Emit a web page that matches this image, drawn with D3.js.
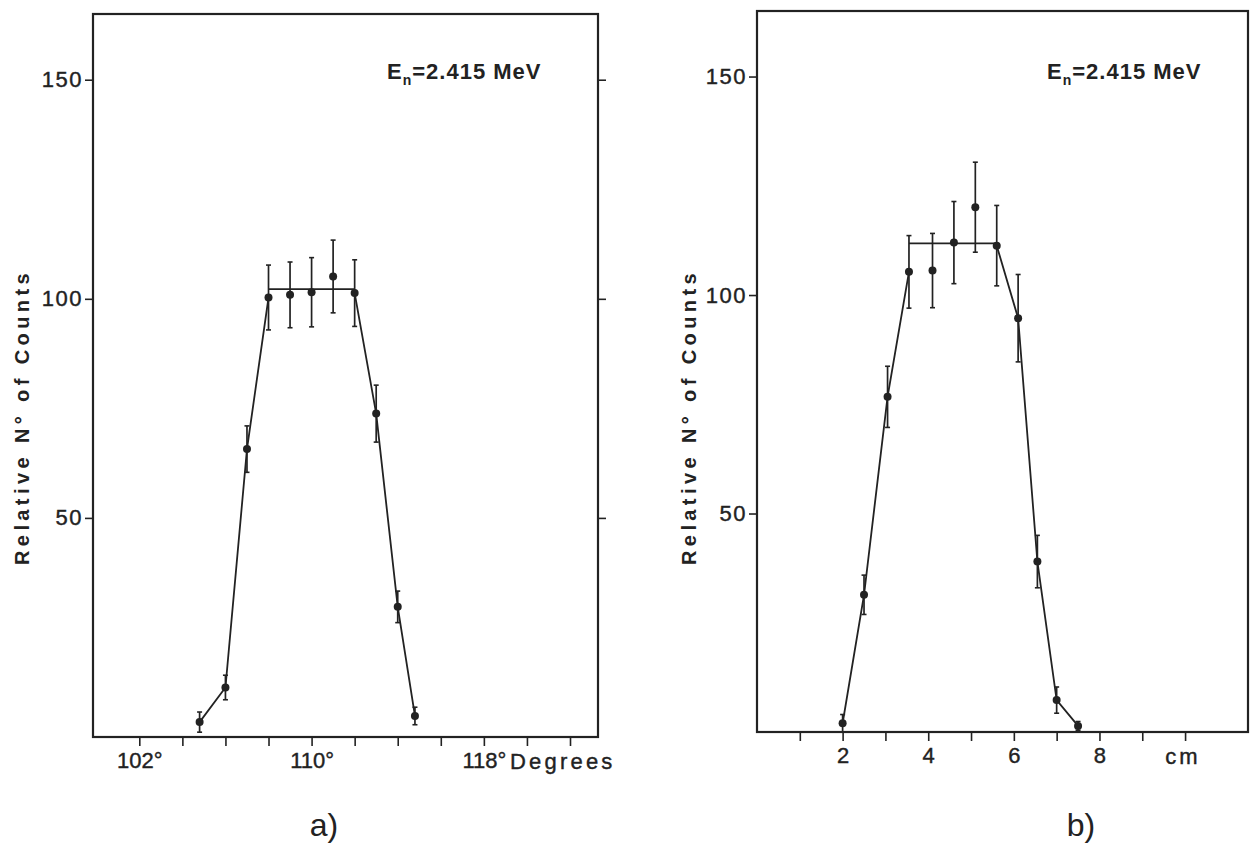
<!DOCTYPE html>
<html>
<head>
<meta charset="utf-8">
<script src="https://cdn.jsdelivr.net/npm/d3@7"></script>
<style>
  body { margin: 0; background: #fff; }
  text { font-family: "Liberation Sans", Arial, sans-serif; fill: #222; }
</style>
</head>
<body>
<div id="chart"></div>
<script>
// data
// a) angular scan
let degAngles = [104.8, 106, 107, 108, 109, 110, 111, 112, 113, 114, 114.8];
let degCounts = [3.4, 11.3, 65.7, 100.3, 100.9, 101.5, 105.1, 101.3, 73.8, 29.7, 4.8];
let degErrors = [2.3, 2.8, 5.3, 7.4, 7.5, 7.9, 8.3, 7.6, 6.5, 3.6, 2.0];
let degPlateau = 102.2;
let degTicks = [102, 104, 106, 108, 110, 112, 114, 116, 118, 120, 122];
let degLabels = [102, 110, 118];

// b) linear scan
let cmPositions = [2.0, 2.5, 3.05, 3.55, 4.1, 4.6, 5.1, 5.6, 6.1, 6.55, 7.0, 7.5];
let cmCounts = [2.0, 31.4, 76.7, 105.3, 105.6, 112.0, 120.1, 111.3, 94.7, 39.0, 7.3, 1.4];
let cmErrors = [2.0, 4.5, 7.0, 8.3, 8.5, 9.4, 10.3, 9.2, 10.0, 6.0, 3.0, 1.0];
let cmPlateau = 111.8;
let cmTicks = [1, 2, 3, 4, 5, 6, 7, 8, 9, 10];
let cmLabels = [2, 4, 6, 8];

let countTicks = [50, 100, 150];

let ink = "#222";

let svg = d3.select("#chart")
    .append("svg")
    .attr("width", 1250)
    .attr("height", 846);

//Draw one panel of the figure
function drawPanel(opt) {
    let x = d3.scaleLinear().domain(opt.xDomain).range(opt.xRange);
    let y = d3.scaleLinear().domain([0, 165]).range(opt.yRange);
    let g = svg.append("g");

    //frame
    g.append("rect")
        .attr("x", opt.xRange[0])
        .attr("y", opt.yRange[1])
        .attr("width", opt.xRange[1] - opt.xRange[0])
        .attr("height", opt.yRange[0] - opt.yRange[1])
        .attr("fill", "none")
        .attr("stroke", ink)
        .attr("stroke-width", 2.2);

    //left axis
    let yAxis = g.append("g")
        .attr("transform", "translate(" + opt.xRange[0] + ",0)")
        .call(d3.axisLeft(y).tickValues(countTicks).tickSize(8).tickPadding(2));
    yAxis.select(".domain").remove();
    yAxis.selectAll("line").attr("stroke", ink).attr("stroke-width", 1.6);
    yAxis.selectAll("text")
        .style("font-size", "22px")
        .style("letter-spacing", "1.5px")
        .attr("fill", ink)
        .attr("stroke", ink).attr("stroke-width", 0.4);

    //outer ticks on the right edge
    if (opt.rightTicks) {
        let rAxis = g.append("g")
            .attr("transform", "translate(" + opt.xRange[1] + ",0)")
            .call(d3.axisRight(y).tickValues(countTicks).tickSize(8).tickFormat(""));
        rAxis.select(".domain").remove();
        rAxis.selectAll("line").attr("stroke", ink).attr("stroke-width", 1.6);
    }

    //bottom axis
    let xAxis = g.append("g")
        .attr("transform", "translate(0," + opt.yRange[0] + ")")
        .call(d3.axisBottom(x).tickValues(opt.ticks).tickSize(9).tickPadding(6)
            .tickFormat(function(d) { return opt.labels.indexOf(d) >= 0 ? d + opt.suffix : ""; }));
    xAxis.select(".domain").remove();
    xAxis.selectAll("line").attr("stroke", ink).attr("stroke-width", 1.6);
    xAxis.selectAll("text")
        .style("font-size", "22px")
        .attr("fill", ink)
        .attr("stroke", ink).attr("stroke-width", 0.4);

    //unit label after the last labelled tick
    g.append("text")
        .attr("x", opt.unitX)
        .attr("y", opt.yRange[0] + 32)
        .attr("text-anchor", opt.unitAnchor)
        .style("font-size", "22px")
        .style("letter-spacing", opt.unitSpacing)
        .attr("stroke", ink).attr("stroke-width", 0.4)
        .text(opt.unit);

    //y axis title
    g.append("text")
        .attr("transform", "translate(" + opt.titleX + ",417) rotate(-90)")
        .attr("text-anchor", "middle")
        .style("font-size", "20px")
        .style("font-weight", "bold")
        .style("letter-spacing", "4.4px")
        .text("Relative N° of Counts");

    //energy note
    let note = g.append("text")
        .attr("x", opt.noteX)
        .attr("y", 79)
        .style("font-size", "22px")
        .style("font-weight", "bold")
        .style("letter-spacing", "1px");
    note.append("tspan").text("E");
    note.append("tspan").attr("dy", 6).style("font-size", "14px").text("n");
    note.append("tspan").attr("dy", -6).text("=2.415 MeV");

    //panel tag
    g.append("text")
        .attr("x", opt.tagX)
        .attr("y", 836)
        .attr("text-anchor", "middle")
        .style("font-size", "32px")
        .text(opt.tag);

    let line = d3.line().x(function(d) { return x(d[0]); }).y(function(d) { return y(d[1]); });
    let pts = opt.xs.map(function(v, i) { return [v, opt.ys[i]]; });

    //rising side, plateau and falling side
    g.append("path")
        .attr("d", line(pts.slice(0, 4)))
        .attr("fill", "none").attr("stroke", ink).attr("stroke-width", 1.8);
    g.append("path")
        .attr("d", line([[opt.xs[3], opt.plateau], [opt.xs[7], opt.plateau]]))
        .attr("fill", "none").attr("stroke", ink).attr("stroke-width", 1.8);
    g.append("path")
        .attr("d", line(pts.slice(7)))
        .attr("fill", "none").attr("stroke", ink).attr("stroke-width", 1.8);

    //error bars
    let bars = g.selectAll("g.err")
        .data(pts)
        .enter()
        .append("g")
        .attr("class", "err");
    bars.append("line")
        .attr("x1", function(d) { return x(d[0]); })
        .attr("x2", function(d) { return x(d[0]); })
        .attr("y1", function(d, i) { return y(d[1] - opt.errs[i]); })
        .attr("y2", function(d, i) { return y(d[1] + opt.errs[i]); })
        .attr("stroke", ink).attr("stroke-width", 1.7);
    [-1, 1].forEach(function(s) {
        bars.append("line")
            .attr("x1", function(d) { return x(d[0]) - 2.5; })
            .attr("x2", function(d) { return x(d[0]) + 2.5; })
            .attr("y1", function(d, i) { return y(d[1] + s * opt.errs[i]); })
            .attr("y2", function(d, i) { return y(d[1] + s * opt.errs[i]); })
            .attr("stroke", ink).attr("stroke-width", 1.6);
    });

    //dots
    g.selectAll("circle.pt")
        .data(pts)
        .enter()
        .append("circle")
        .attr("class", "pt")
        .attr("cx", function(d) { return x(d[0]); })
        .attr("cy", function(d) { return y(d[1]); })
        .attr("r", 4)
        .attr("fill", ink);
}

drawPanel({
    xDomain: [99.85, 123.3], xRange: [93, 598], yRange: [737, 14],
    xs: degAngles, ys: degCounts, errs: degErrors, plateau: degPlateau,
    ticks: degTicks, labels: degLabels, suffix: "°",
    unit: "Degrees", unitX: 510, unitAnchor: "start", unitSpacing: "3.2px",
    rightTicks: true, titleX: 29, noteX: 387, tag: "a)", tagX: 324
});

drawPanel({
    xDomain: [0, 11.47], xRange: [757, 1248], yRange: [732, 11],
    xs: cmPositions, ys: cmCounts, errs: cmErrors, plateau: cmPlateau,
    ticks: cmTicks, labels: cmLabels, suffix: "",
    unit: "cm", unitX: 1183, unitAnchor: "middle", unitSpacing: "3px",
    rightTicks: false, titleX: 696, noteX: 1047, tag: "b)", tagX: 1081
});
</script>
</body>
</html>
